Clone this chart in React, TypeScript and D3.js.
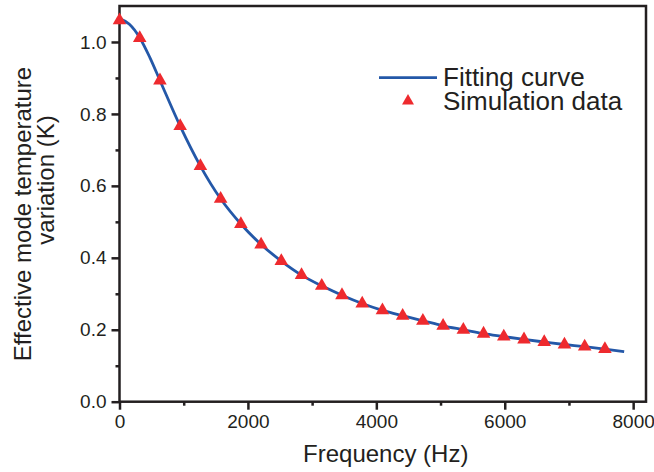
import React, { useEffect, useRef } from 'react';
import * as d3 from 'd3';

// simulation points (triangles)
const simFreq = [0, 315, 630, 945, 1260, 1575, 1890, 2205, 2520, 2835, 3150, 3465, 3780, 4095, 4410, 4725, 5040, 5355, 5670, 5985, 6300, 6615, 6930, 7245, 7560];
const simValue = [1.06, 1.011, 0.893, 0.766, 0.655, 0.564, 0.494, 0.437, 0.391, 0.352, 0.322, 0.296, 0.273, 0.254, 0.239, 0.225, 0.211, 0.2, 0.189, 0.181, 0.173, 0.166, 0.159, 0.153, 0.146];

// fitting curve
const fitFreq = [0, 150, 315, 470, 630, 945, 1260, 1575, 1890, 2205, 2520, 2835, 3150, 3465, 3780, 4095, 4410, 4725, 5040, 5355, 5670, 5985, 6300, 6615, 6930, 7245, 7560, 7860];
const fitValue = [1.065, 1.05, 1.012, 0.958, 0.893, 0.766, 0.655, 0.564, 0.494, 0.437, 0.391, 0.352, 0.322, 0.296, 0.273, 0.254, 0.239, 0.225, 0.211, 0.2, 0.189, 0.181, 0.173, 0.166, 0.159, 0.153, 0.146, 0.139];

const xMajor = [0, 2000, 4000, 6000, 8000];
const xMinor = [1000, 3000, 5000, 7000];
const yMajor = [0, 0.2, 0.4, 0.6, 0.8, 1.0];
const yMinor = [0.1, 0.3, 0.5, 0.7, 0.9];

const legendLabels = ['Fitting curve', 'Simulation data'];

const FONT = '"Liberation Sans", Arial, Helvetica, sans-serif';
const BLUE = '#2458a8';
const RED = '#ee2a2e';
const INK = '#231f20';

const App = () => {
  const ref = useRef<SVGSVGElement>(null);

  useEffect(() => {
    document.body.style.margin = '0';
    const svg = d3.select(ref.current);
    svg.selectAll('*').remove();

    const left = 119.5, right = 646, top = 6, bottom = 401.7;

    const x = d3.scaleLinear().domain([0, 8200]).range([left, right]);
    const y = d3.scaleLinear().domain([0, 1.1]).range([bottom, top]);

    // major + minor ticks, bottom
    const xAxis = svg.append('g').attr('transform', `translate(0,${bottom})`)
      .call(d3.axisBottom(x).tickValues(xMajor).tickSize(8).tickPadding(5).tickFormat(d3.format('d')));
    svg.append('g').attr('transform', `translate(0,${bottom})`)
      .call(d3.axisBottom(x).tickValues(xMinor).tickSize(4).tickFormat(() => ''));

    // left
    const yAxis = svg.append('g').attr('transform', `translate(${left},0)`)
      .call(d3.axisLeft(y).tickValues(yMajor).tickSize(8).tickPadding(5).tickFormat(d3.format('.1f')));
    svg.append('g').attr('transform', `translate(${left},0)`)
      .call(d3.axisLeft(y).tickValues(yMinor).tickSize(4).tickFormat(() => ''));

    svg.selectAll('.domain').remove();
    svg.selectAll('.tick line').attr('stroke', INK).attr('stroke-width', 2.5);
    [xAxis, yAxis].forEach(a => a.selectAll('text')
      .attr('font-family', FONT).attr('font-size', 19).attr('fill', INK));

    // frame
    svg.append('rect')
      .attr('x', left).attr('y', top)
      .attr('width', right - left).attr('height', bottom - top)
      .attr('fill', 'none').attr('stroke', INK).attr('stroke-width', 2.5);

    // fitting curve
    const line = d3.line<number>()
      .x((d, i) => x(fitFreq[i]))
      .y(d => y(d))
      .curve(d3.curveMonotoneX);
    svg.append('path')
      .datum(fitValue)
      .attr('d', line)
      .attr('fill', 'none')
      .attr('stroke', BLUE)
      .attr('stroke-width', 2.8);

    // simulation triangles
    const tri = d3.symbol().type(d3.symbolTriangle).size(80);
    svg.append('g').selectAll('path')
      .data(simValue)
      .enter()
      .append('path')
      .attr('d', tri)
      .attr('transform', (d, i) => `translate(${x(simFreq[i])},${y(d)})`)
      .attr('fill', RED);

    // legend
    const lg = svg.append('g').attr('font-family', FONT).attr('font-size', 26).attr('fill', INK);
    lg.append('line')
      .attr('x1', 379).attr('x2', 437).attr('y1', 77.7).attr('y2', 77.7)
      .attr('stroke', BLUE).attr('stroke-width', 2.8);
    lg.append('path')
      .attr('d', d3.symbol().type(d3.symbolTriangle).size(62)())
      .attr('transform', 'translate(408,101)')
      .attr('fill', RED);
    lg.selectAll('text.lab')
      .data(legendLabels)
      .enter()
      .append('text')
      .attr('class', 'lab')
      .attr('x', 443)
      .attr('y', (d, i) => 86 + i * 24)
      .text(d => d);

    // axis titles
    svg.append('text')
      .attr('x', (left + right) / 2 + 3).attr('y', 462)
      .attr('text-anchor', 'middle')
      .attr('font-family', FONT).attr('font-size', 24).attr('fill', INK)
      .text('Frequency (Hz)');

    svg.append('text')
      .attr('transform', 'translate(31,214) rotate(-90)')
      .attr('text-anchor', 'middle')
      .attr('font-family', FONT).attr('font-size', 24).attr('fill', INK)
      .text('Effective mode temperature');
    svg.append('text')
      .attr('transform', 'translate(54,180) rotate(-90)')
      .attr('text-anchor', 'middle')
      .attr('font-family', FONT).attr('font-size', 24).attr('fill', INK)
      .text('variation (K)');
  }, []);

  return (
    <>
      <svg ref={ref} width={654} height={472} style={{ display: 'block' }}></svg>
    </>
  );
};

export default App;
